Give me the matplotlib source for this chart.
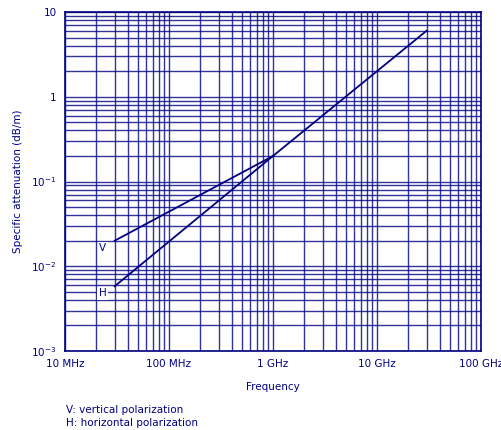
import matplotlib
matplotlib.use("Agg")
import matplotlib.pyplot as plt
from matplotlib.ticker import FixedLocator, NullFormatter

# values (frequency in Hz, attenuation in dB/m)
freq_v = [3e7, 1e9]
att_v = [0.02, 0.2]
freq_h = [3e7, 1e9]
att_h = [0.0058, 0.2]
freq_both = [1e9, 3e10]
att_both = [0.2, 6.0]

x_ticks = [1e7, 1e8, 1e9, 1e10, 1e11]
x_labels = ["10 MHz", "100 MHz", "1 GHz", "10 GHz", "100 GHz"]
y_ticks = [1e-3, 1e-2, 1e-1, 1, 10]
y_labels = ["$10^{-3}$", "$10^{-2}$", "$10^{-1}$", "1", "10"]

navy = "#000080"

fig = plt.figure(figsize=(5.02, 4.30), dpi=100)
ax = fig.add_axes([0.1295, 0.1837, 0.8285, 0.7884])
ax.set_xscale("log")
ax.set_yscale("log")
ax.set_xlim(1e7, 1e11)
ax.set_ylim(1e-3, 10)

# grid at 1..9 of each decade
xminor = [m * 10**e for e in range(7, 11) for m in range(2, 10)]
yminor = [m * 10.0**e for e in range(-3, 1) for m in range(2, 10)]
ax.xaxis.set_major_locator(FixedLocator(x_ticks))
ax.yaxis.set_major_locator(FixedLocator(y_ticks))
ax.xaxis.set_minor_locator(FixedLocator(xminor))
ax.yaxis.set_minor_locator(FixedLocator(yminor))
ax.xaxis.set_minor_formatter(NullFormatter())
ax.yaxis.set_minor_formatter(NullFormatter())
ax.set_xticklabels(x_labels)
ax.set_yticklabels(y_labels)
ax.grid(True, which="both", color=navy, linewidth=1.0, alpha=0.8)
ax.tick_params(which="both", length=0, colors=navy, labelsize=7.5, pad=6)
for s in ax.spines.values():
    s.set_color(navy)
    s.set_linewidth(1.2)

ax.plot(freq_v, att_v, color=navy, linewidth=1.3, zorder=3)
ax.plot(freq_h, att_h, color=navy, linewidth=1.3, zorder=3)
ax.plot(freq_both, att_both, color=navy, linewidth=1.3, zorder=3)

box = dict(facecolor="white", edgecolor="none", pad=1.0)
ax.text(2.3e7, 0.0162, "V", color=navy, fontsize=7.5, ha="center", va="center", bbox=box, zorder=4)
ax.text(2.3e7, 0.0048, "H", color=navy, fontsize=7.5, ha="center", va="center", bbox=box, zorder=4)

ax.set_xlabel("Frequency", color=navy, fontsize=7.5, labelpad=9)
ax.set_ylabel("Specific attenuation (dB/m)", color=navy, fontsize=7.5, labelpad=6)

fig.text(66 / 502, 1 - 410 / 430, "V: vertical polarization", color=navy, fontsize=7.5, va="center")
fig.text(66 / 502, 1 - 423 / 430, "H: horizontal polarization", color=navy, fontsize=7.5, va="center")

fig.savefig("out.png", dpi=100, facecolor="white")
